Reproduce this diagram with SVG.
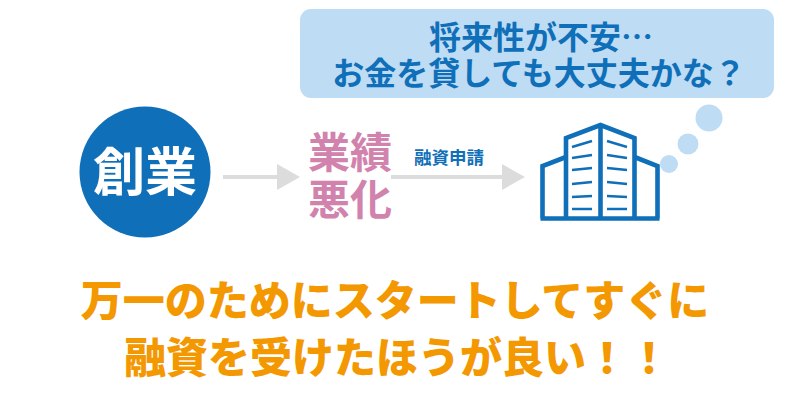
<svg xmlns="http://www.w3.org/2000/svg" width="800" height="404" viewBox="0 0 800 404">
<style>
text{font-family:"Noto Sans CJK JP","Noto Sans",sans-serif;font-weight:700;text-anchor:middle}
.b{fill:#0f6fb8}
.o{fill:#f39800;font-size:42px;font-weight:900}
.p{fill:#d183ad;font-size:42px}
.c{fill:#bedcf3}
.a{stroke:#dcdcdc;stroke-width:4;fill:none}
.h{fill:#dcdcdc}
.s{fill:none;stroke:#0f6fb8;stroke-width:4.600}
.l{stroke:#0f6fb8;stroke-width:2.600;fill:none}
</style>
<rect width="800" height="404" fill="#fff"/>
<g id="bubble">
<rect class="c" x="300" y="9" width="474" height="89" rx="11"/>
<text class="b" x="541" y="49" font-size="32">将来性が不安…</text>
<text class="b" x="539" y="85" font-size="32">お金を貸しても大丈夫かな？</text>
<circle class="c" cx="709" cy="118" r="13.500"/>
<circle class="c" cx="688" cy="144" r="10.500"/>
<circle class="c" cx="669" cy="164" r="9"/>
</g>
<g id="start">
<circle cx="145" cy="172" r="65.500" fill="#0f6fb8"/>
<text x="145" y="191" font-size="52" fill="#fff" font-weight="900">創業</text>
</g>
<g id="connectors">
<path class="a" d="M223 177H280"/>
<path class="h" d="M277 164L300 177L277 190Z"/>
<path class="a" d="M391 177H505"/>
<path class="h" d="M502 164L525 177L502 190Z"/>
</g>
<g id="worse">
<text class="p" x="350" y="168">業績</text>
<text class="p" x="350" y="215">悪化</text>
</g>
<g id="label"><text class="b" x="449" y="164" font-size="17.500">融資申請</text></g>
<g id="building">
<path class="s" d="M542.500 218.500V166L566 157M657.500 218.500V166L634.500 157M540.500 218.500H659.500"/>
<path class="s" d="M566 218.500V138L600.500 125L634.500 138V218.500"/>
<path class="s" d="M600.500 125V218.500"/>
<path class="l" d="M572 147L592 141M572 158L592 155M572 170L592 168M572 184L592 182M572 197L592 196M572 209H592"/>
<path class="l" d="M607 141L627 147M607 155L627 158M607 168L627 170M607 182L627 184M607 196L627 197M607 209H627"/>
</g>
<g id="message">
<text class="o" x="395" y="316">万一のためにスタートしてすぐに</text>
<text class="o" x="397" y="373">融資を受けたほうが良い！！</text>
</g>
</svg>
